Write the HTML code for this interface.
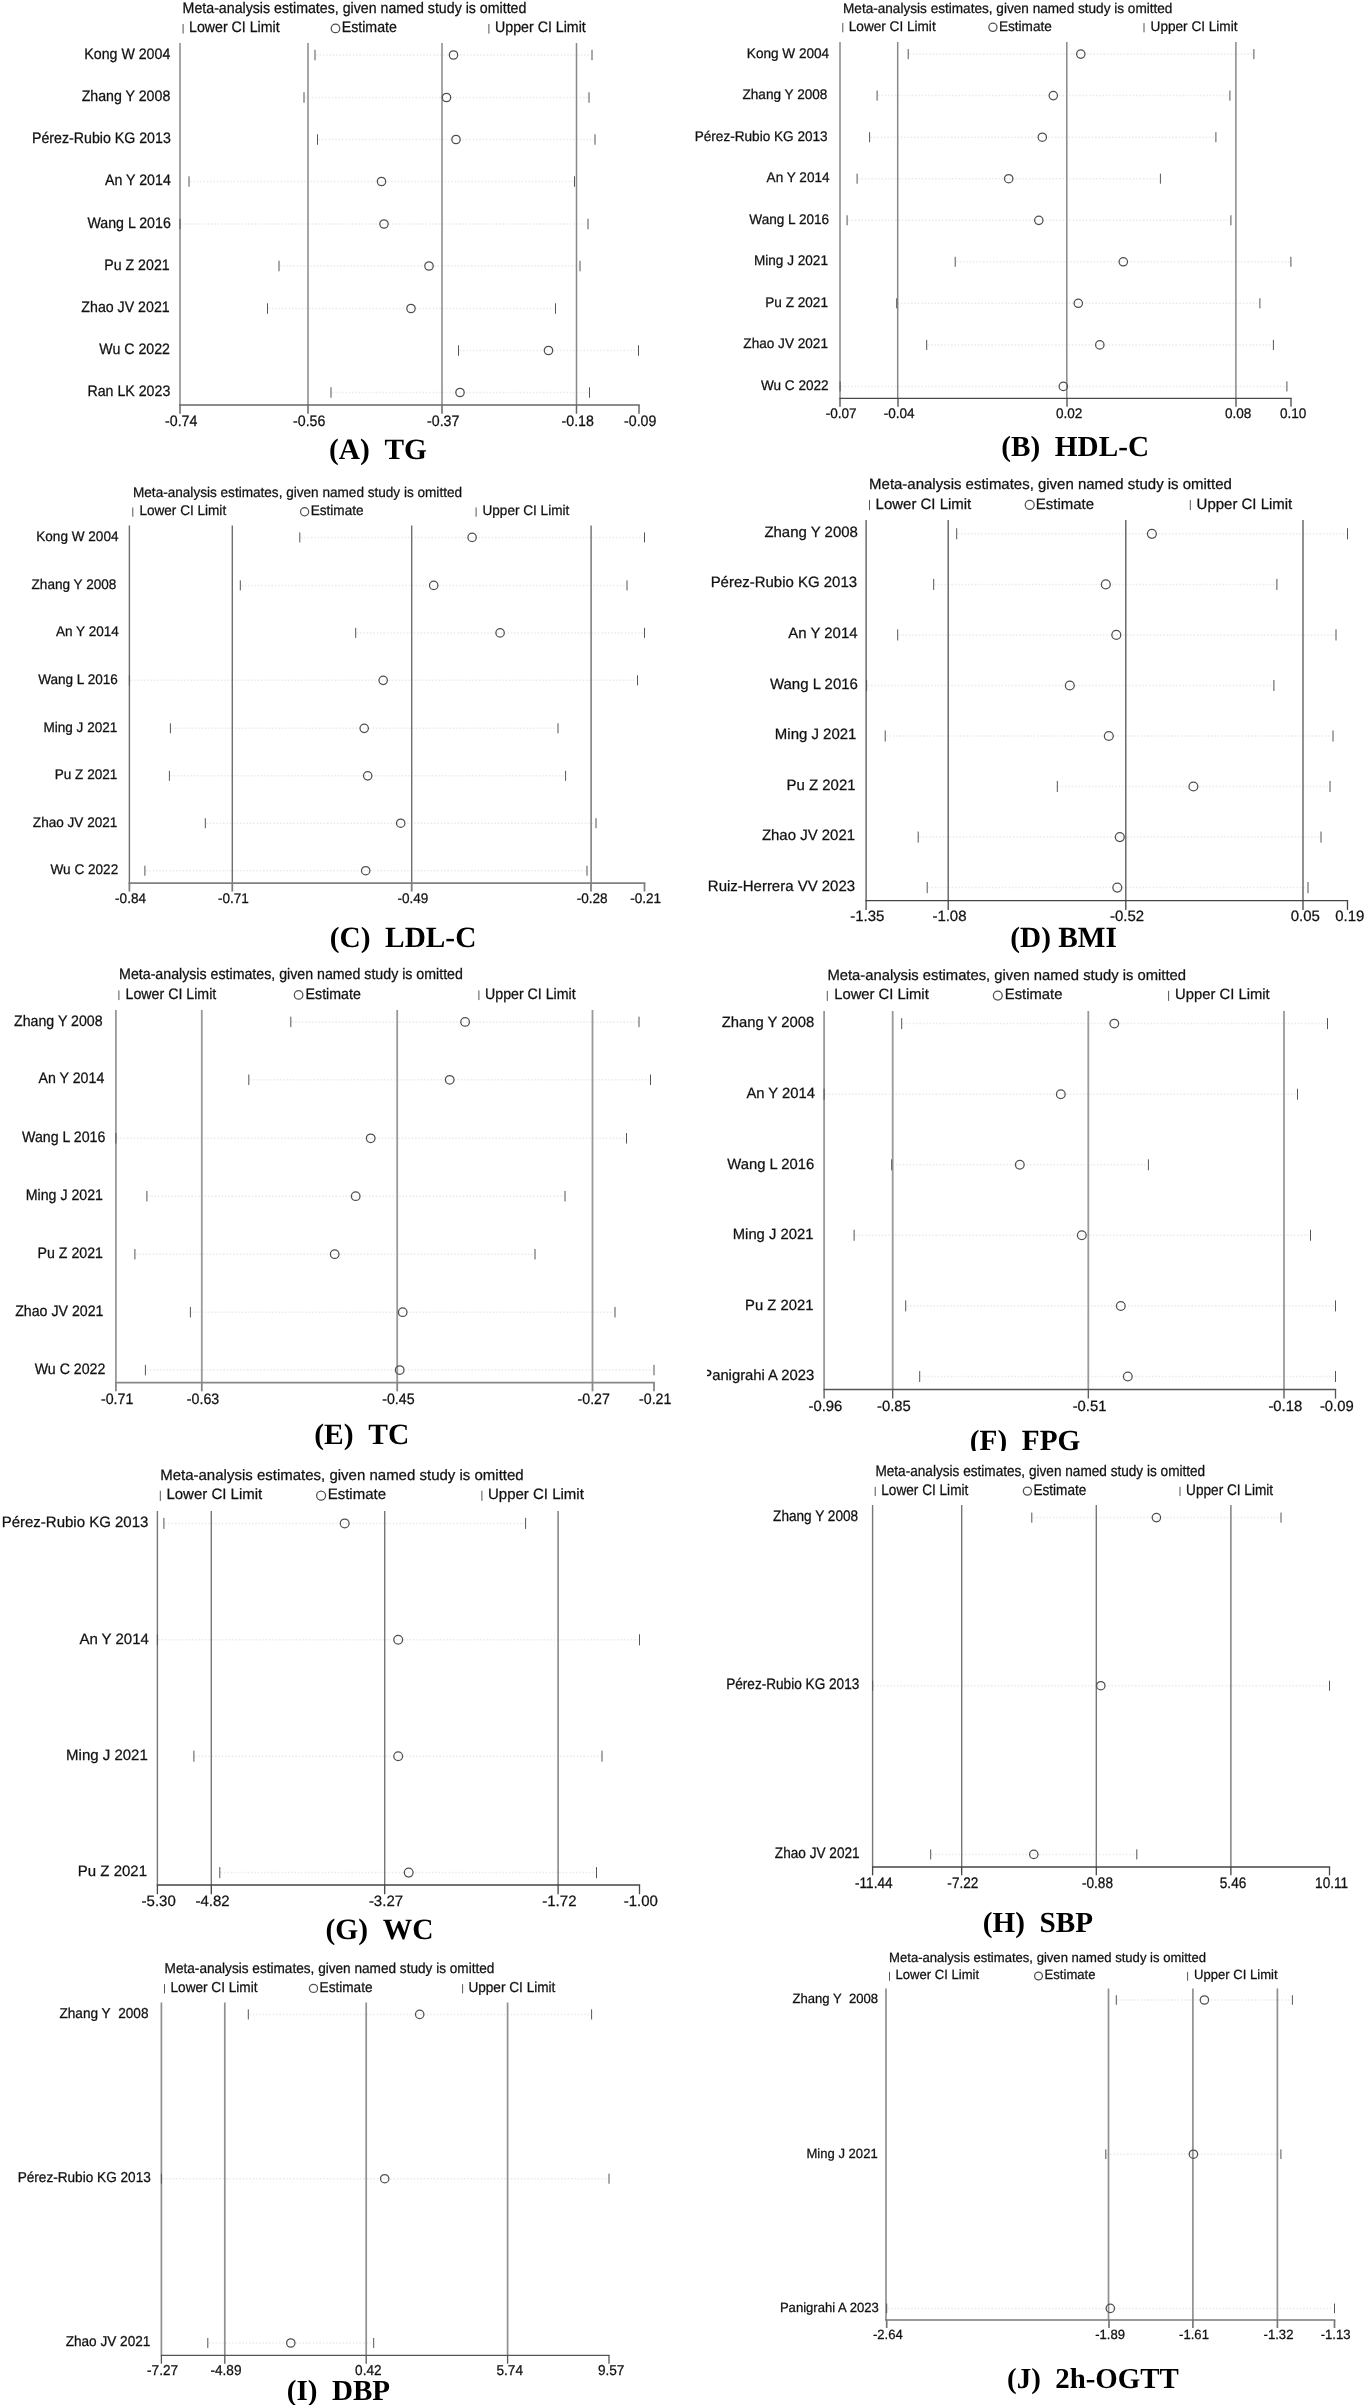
<!DOCTYPE html>
<html><head><meta charset="utf-8"><style>
html,body{margin:0;padding:0;background:#fff;}
svg{display:block;filter:grayscale(100%);}
text{font-family:"Liberation Sans",sans-serif;text-rendering:geometricPrecision;fill:#111;stroke:#111;stroke-width:0.25px;}
text.cap{font-family:"Liberation Serif",serif;font-weight:bold;fill:#000;stroke:none;}
.ax{stroke:#7a7a7a;stroke-width:1.3;}
.xa{stroke:#5a5a5a;stroke-width:1.4;}
.tk{stroke:#555;stroke-width:1;}
.ci{stroke:#505050;stroke-width:1.25;fill:none;}
.dt{stroke:#eaeaea;stroke-width:1.5;stroke-dasharray:1.5 1.85;}
</style></head><body>
<svg width="1369" height="2405" viewBox="0 0 1369 2405">
<defs><clipPath id="clxF" clipPathUnits="userSpaceOnUse"><rect x="706.9" y="0" width="2000" height="3000"/></clipPath><clipPath id="clyF" clipPathUnits="userSpaceOnUse"><rect x="0" y="0" width="2000" height="1451"/></clipPath></defs>
<rect width="1369" height="2405" fill="#fff"/>
<g id="pA"><text x="182.6" y="13.3" font-size="14.19" transform="matrix(1 0 0 1.070 0 -0.931)">Meta-analysis estimates, given named study is omitted</text>
<line class="tk" x1="183.1" x2="183.1" y1="23.97" y2="33.6"/>
<text x="189" y="32" font-size="14.19" transform="matrix(1 0 0 1.070 0 -2.240)">Lower CI Limit</text>
<circle class="ci" cx="335.5" cy="28.45" r="4.26"/>
<text x="341.7" y="32" font-size="14.19" transform="matrix(1 0 0 1.070 0 -2.240)">Estimate</text>
<line class="tk" x1="488.9" x2="488.9" y1="23.97" y2="33.6"/>
<text x="495.1" y="32" font-size="14.19" transform="matrix(1 0 0 1.070 0 -2.240)">Upper CI Limit</text>
<line class="dt" x1="316" x2="591" y1="55" y2="55"/>
<line class="dt" x1="305" x2="588" y1="97.5" y2="97.5"/>
<line class="dt" x1="318.5" x2="594" y1="139.5" y2="139.5"/>
<line class="dt" x1="190" x2="573.5" y1="181.5" y2="181.5"/>
<line class="dt" x1="181" x2="587" y1="224" y2="224"/>
<line class="dt" x1="280" x2="579" y1="266" y2="266"/>
<line class="dt" x1="268.5" x2="554.5" y1="308.5" y2="308.5"/>
<line class="dt" x1="459.5" x2="637.5" y1="350.5" y2="350.5"/>
<line class="dt" x1="332" x2="588.5" y1="392.5" y2="392.5"/>
<line x1="308" x2="308" y1="43" y2="405" stroke="#888" stroke-width="1.5"/>
<line x1="442" x2="442" y1="43" y2="405" stroke="#888" stroke-width="1.5"/>
<line x1="576.5" x2="576.5" y1="43" y2="405" stroke="#888" stroke-width="1.5"/>
<line x1="180" x2="180" y1="43" y2="405" stroke="#888" stroke-width="1.5"/>
<line x1="179.25" x2="639.75" y1="405" y2="405" stroke="#666" stroke-width="1.5"/>
<line x1="180" x2="180" y1="405" y2="413.72" stroke="#666" stroke-width="1.5"/>
<text x="181.22" y="425.8" font-size="14.19" text-anchor="middle" transform="matrix(1 0 0 1.070 0 -29.806)">-0.74</text>
<line x1="308" x2="308" y1="405" y2="413.72" stroke="#666" stroke-width="1.5"/>
<text x="309.22" y="425.8" font-size="14.19" text-anchor="middle" transform="matrix(1 0 0 1.070 0 -29.806)">-0.56</text>
<line x1="442" x2="442" y1="405" y2="413.72" stroke="#666" stroke-width="1.5"/>
<text x="443.22" y="425.8" font-size="14.19" text-anchor="middle" transform="matrix(1 0 0 1.070 0 -29.806)">-0.37</text>
<line x1="576.5" x2="576.5" y1="405" y2="413.72" stroke="#666" stroke-width="1.5"/>
<text x="577.72" y="425.8" font-size="14.19" text-anchor="middle" transform="matrix(1 0 0 1.070 0 -29.806)">-0.18</text>
<line x1="639" x2="639" y1="405" y2="413.72" stroke="#666" stroke-width="1.5"/>
<text x="640.22" y="425.8" font-size="14.19" text-anchor="middle" transform="matrix(1 0 0 1.070 0 -29.806)">-0.09</text>
<line class="tk" x1="315" x2="315" y1="49.75" y2="60.25"/>
<line class="tk" x1="592" x2="592" y1="49.75" y2="60.25"/>
<circle class="ci" cx="453.5" cy="55" r="4.2"/>
<text x="170.3" y="58.6" font-size="14.19" text-anchor="end" transform="matrix(1 0 0 1.070 0 -4.102)">Kong W 2004</text>
<line class="tk" x1="304" x2="304" y1="92.25" y2="102.75"/>
<line class="tk" x1="589" x2="589" y1="92.25" y2="102.75"/>
<circle class="ci" cx="446.5" cy="97.5" r="4.2"/>
<text x="170.3" y="101.1" font-size="14.19" text-anchor="end" transform="matrix(1 0 0 1.070 0 -7.077)">Zhang Y 2008</text>
<line class="tk" x1="317.5" x2="317.5" y1="134.25" y2="144.75"/>
<line class="tk" x1="595" x2="595" y1="134.25" y2="144.75"/>
<circle class="ci" cx="456" cy="139.5" r="4.2"/>
<text x="170.8" y="143.1" font-size="14.19" text-anchor="end" transform="matrix(1 0 0 1.070 0 -10.017)">Pérez-Rubio KG 2013</text>
<line class="tk" x1="189" x2="189" y1="176.25" y2="186.75"/>
<line class="tk" x1="574.5" x2="574.5" y1="176.25" y2="186.75"/>
<circle class="ci" cx="381.5" cy="181.5" r="4.2"/>
<text x="170.8" y="185.1" font-size="14.19" text-anchor="end" transform="matrix(1 0 0 1.070 0 -12.957)">An Y 2014</text>
<line class="tk" x1="180" x2="180" y1="218.75" y2="229.25"/>
<line class="tk" x1="588" x2="588" y1="218.75" y2="229.25"/>
<circle class="ci" cx="384" cy="224" r="4.2"/>
<text x="170.8" y="227.6" font-size="14.19" text-anchor="end" transform="matrix(1 0 0 1.070 0 -15.932)">Wang L 2016</text>
<line class="tk" x1="279" x2="279" y1="260.75" y2="271.25"/>
<line class="tk" x1="580" x2="580" y1="260.75" y2="271.25"/>
<circle class="ci" cx="429" cy="266" r="4.2"/>
<text x="169.7" y="269.6" font-size="14.19" text-anchor="end" transform="matrix(1 0 0 1.070 0 -18.872)">Pu Z 2021</text>
<line class="tk" x1="267.5" x2="267.5" y1="303.25" y2="313.75"/>
<line class="tk" x1="555.5" x2="555.5" y1="303.25" y2="313.75"/>
<circle class="ci" cx="411" cy="308.5" r="4.2"/>
<text x="169.7" y="312.1" font-size="14.19" text-anchor="end" transform="matrix(1 0 0 1.070 0 -21.847)">Zhao JV 2021</text>
<line class="tk" x1="458.5" x2="458.5" y1="345.25" y2="355.75"/>
<line class="tk" x1="638.5" x2="638.5" y1="345.25" y2="355.75"/>
<circle class="ci" cx="548.5" cy="350.5" r="4.2"/>
<text x="170" y="354.1" font-size="14.19" text-anchor="end" transform="matrix(1 0 0 1.070 0 -24.787)">Wu C 2022</text>
<line class="tk" x1="331" x2="331" y1="387.25" y2="397.75"/>
<line class="tk" x1="589.5" x2="589.5" y1="387.25" y2="397.75"/>
<circle class="ci" cx="460" cy="392.5" r="4.2"/>
<text x="170.3" y="396.1" font-size="14.19" text-anchor="end" transform="matrix(1 0 0 1.070 0 -27.727)">Ran LK 2023</text>
<text class="cap" x="328.9" y="459.2" font-size="29.4">(A)  TG</text></g>
<g id="pB"><text x="843" y="12.8" font-size="13.6" transform="matrix(1 0 0 1.030 0 -0.384)">Meta-analysis estimates, given named study is omitted</text>
<line class="tk" x1="842.8" x2="842.8" y1="23.07" y2="32.3"/>
<text x="848.8" y="30.7" font-size="13.6" transform="matrix(1 0 0 1.030 0 -0.921)">Lower CI Limit</text>
<circle class="ci" cx="992.9" cy="27.3" r="4.08"/>
<text x="998.9" y="30.7" font-size="13.6" transform="matrix(1 0 0 1.030 0 -0.921)">Estimate</text>
<line class="tk" x1="1144" x2="1144" y1="23.07" y2="32.3"/>
<text x="1150.6" y="30.7" font-size="13.6" transform="matrix(1 0 0 1.030 0 -0.921)">Upper CI Limit</text>
<line class="dt" x1="909.2" x2="1252.9" y1="54.1" y2="54.1"/>
<line class="dt" x1="878.1" x2="1228.9" y1="95.6" y2="95.6"/>
<line class="dt" x1="870.6" x2="1214.9" y1="137.2" y2="137.2"/>
<line class="dt" x1="858.1" x2="1159.4" y1="178.7" y2="178.7"/>
<line class="dt" x1="848.1" x2="1229.9" y1="220.3" y2="220.3"/>
<line class="dt" x1="956.2" x2="1289.9" y1="261.8" y2="261.8"/>
<line class="dt" x1="897.7" x2="1258.9" y1="303.3" y2="303.3"/>
<line class="dt" x1="927.7" x2="1272.4" y1="344.9" y2="344.9"/>
<line class="dt" x1="841.1" x2="1285.9" y1="386.4" y2="386.4"/>
<line x1="897.7" x2="897.7" y1="42" y2="398.3" stroke="#888" stroke-width="1.5"/>
<line x1="1066.8" x2="1066.8" y1="42" y2="398.3" stroke="#888" stroke-width="1.5"/>
<line x1="1235.9" x2="1235.9" y1="42" y2="398.3" stroke="#888" stroke-width="1.5"/>
<line x1="840" x2="840" y1="42" y2="398.3" stroke="#888" stroke-width="1.5"/>
<line x1="839.35" x2="1291.65" y1="398.3" y2="398.3" stroke="#4a4a4a" stroke-width="1.3"/>
<line x1="840" x2="840" y1="398.3" y2="406.65" stroke="#4a4a4a" stroke-width="1.3"/>
<text x="841.17" y="417.8" font-size="13.6" text-anchor="middle" transform="matrix(1 0 0 1.030 0 -12.534)">-0.07</text>
<line x1="898" x2="898" y1="398.3" y2="406.65" stroke="#4a4a4a" stroke-width="1.3"/>
<text x="899.17" y="417.8" font-size="13.6" text-anchor="middle" transform="matrix(1 0 0 1.030 0 -12.534)">-0.04</text>
<line x1="1067" x2="1067" y1="398.3" y2="406.65" stroke="#4a4a4a" stroke-width="1.3"/>
<text x="1069.14" y="417.8" font-size="13.6" text-anchor="middle" transform="matrix(1 0 0 1.030 0 -12.534)">0.02</text>
<line x1="1236" x2="1236" y1="398.3" y2="406.65" stroke="#4a4a4a" stroke-width="1.3"/>
<text x="1238.14" y="417.8" font-size="13.6" text-anchor="middle" transform="matrix(1 0 0 1.030 0 -12.534)">0.08</text>
<line x1="1291" x2="1291" y1="398.3" y2="406.65" stroke="#4a4a4a" stroke-width="1.3"/>
<text x="1293.14" y="417.8" font-size="13.6" text-anchor="middle" transform="matrix(1 0 0 1.030 0 -12.534)">0.10</text>
<line class="tk" x1="908.2" x2="908.2" y1="49.07" y2="59.13"/>
<line class="tk" x1="1253.9" x2="1253.9" y1="49.07" y2="59.13"/>
<circle class="ci" cx="1080.8" cy="54.1" r="4.2"/>
<text x="829.2" y="57.55" font-size="13.6" text-anchor="end" transform="matrix(1 0 0 1.030 0 -1.727)">Kong W 2004</text>
<line class="tk" x1="877.1" x2="877.1" y1="90.57" y2="100.63"/>
<line class="tk" x1="1229.9" x2="1229.9" y1="90.57" y2="100.63"/>
<circle class="ci" cx="1053.3" cy="95.6" r="4.2"/>
<text x="827.4" y="99.05" font-size="13.6" text-anchor="end" transform="matrix(1 0 0 1.030 0 -2.972)">Zhang Y 2008</text>
<line class="tk" x1="869.6" x2="869.6" y1="132.17" y2="142.23"/>
<line class="tk" x1="1215.9" x2="1215.9" y1="132.17" y2="142.23"/>
<circle class="ci" cx="1042.3" cy="137.2" r="4.2"/>
<text x="827.7" y="140.65" font-size="13.6" text-anchor="end" transform="matrix(1 0 0 1.030 0 -4.220)">Pérez-Rubio KG 2013</text>
<line class="tk" x1="857.1" x2="857.1" y1="173.67" y2="183.73"/>
<line class="tk" x1="1160.4" x2="1160.4" y1="173.67" y2="183.73"/>
<circle class="ci" cx="1008.7" cy="178.7" r="4.2"/>
<text x="829.6" y="182.15" font-size="13.6" text-anchor="end" transform="matrix(1 0 0 1.030 0 -5.465)">An Y 2014</text>
<line class="tk" x1="847.1" x2="847.1" y1="215.27" y2="225.33"/>
<line class="tk" x1="1230.9" x2="1230.9" y1="215.27" y2="225.33"/>
<circle class="ci" cx="1038.8" cy="220.3" r="4.2"/>
<text x="829.2" y="223.75" font-size="13.6" text-anchor="end" transform="matrix(1 0 0 1.030 0 -6.713)">Wang L 2016</text>
<line class="tk" x1="955.2" x2="955.2" y1="256.77" y2="266.83"/>
<line class="tk" x1="1290.9" x2="1290.9" y1="256.77" y2="266.83"/>
<circle class="ci" cx="1123.3" cy="261.8" r="4.2"/>
<text x="828" y="265.25" font-size="13.6" text-anchor="end" transform="matrix(1 0 0 1.030 0 -7.958)">Ming J 2021</text>
<line class="tk" x1="896.7" x2="896.7" y1="298.27" y2="308.33"/>
<line class="tk" x1="1259.9" x2="1259.9" y1="298.27" y2="308.33"/>
<circle class="ci" cx="1078.3" cy="303.3" r="4.2"/>
<text x="828" y="306.75" font-size="13.6" text-anchor="end" transform="matrix(1 0 0 1.030 0 -9.203)">Pu Z 2021</text>
<line class="tk" x1="926.7" x2="926.7" y1="339.87" y2="349.93"/>
<line class="tk" x1="1273.4" x2="1273.4" y1="339.87" y2="349.93"/>
<circle class="ci" cx="1099.8" cy="344.9" r="4.2"/>
<text x="828" y="348.35" font-size="13.6" text-anchor="end" transform="matrix(1 0 0 1.030 0 -10.451)">Zhao JV 2021</text>
<line class="tk" x1="840.1" x2="840.1" y1="381.37" y2="391.43"/>
<line class="tk" x1="1286.9" x2="1286.9" y1="381.37" y2="391.43"/>
<circle class="ci" cx="1063.3" cy="386.4" r="4.2"/>
<text x="828.7" y="389.85" font-size="13.6" text-anchor="end" transform="matrix(1 0 0 1.030 0 -11.696)">Wu C 2022</text>
<text class="cap" x="1001.3" y="456.2" font-size="29.22">(B)  HDL-C</text></g>
<g id="pC"><text x="133" y="497.2" font-size="13.58" transform="matrix(1 0 0 1.030 0 -14.916)">Meta-analysis estimates, given named study is omitted</text>
<line class="tk" x1="132.8" x2="132.8" y1="507.49" y2="516.7"/>
<text x="139.4" y="515.1" font-size="13.58" transform="matrix(1 0 0 1.030 0 -15.453)">Lower CI Limit</text>
<circle class="ci" cx="304.6" cy="511.71" r="4.07"/>
<text x="310.7" y="515.1" font-size="13.58" transform="matrix(1 0 0 1.030 0 -15.453)">Estimate</text>
<line class="tk" x1="476.1" x2="476.1" y1="507.49" y2="516.7"/>
<text x="482.5" y="515.1" font-size="13.58" transform="matrix(1 0 0 1.030 0 -15.453)">Upper CI Limit</text>
<line class="dt" x1="300.8" x2="643.5" y1="537.4" y2="537.4"/>
<line class="dt" x1="241.3" x2="626" y1="585.4" y2="585.4"/>
<line class="dt" x1="356.7" x2="643.5" y1="632.9" y2="632.9"/>
<line class="dt" x1="130.4" x2="636.5" y1="680.3" y2="680.3"/>
<line class="dt" x1="171.4" x2="557" y1="728.3" y2="728.3"/>
<line class="dt" x1="170.4" x2="564.6" y1="775.8" y2="775.8"/>
<line class="dt" x1="206.3" x2="595" y1="823.2" y2="823.2"/>
<line class="dt" x1="145.9" x2="586" y1="870.7" y2="870.7"/>
<line x1="232.3" x2="232.3" y1="525.4" y2="883.2" stroke="#6e6e6e" stroke-width="1.4"/>
<line x1="411.7" x2="411.7" y1="525.4" y2="883.2" stroke="#6e6e6e" stroke-width="1.4"/>
<line x1="591.1" x2="591.1" y1="525.4" y2="883.2" stroke="#6e6e6e" stroke-width="1.4"/>
<line x1="129.4" x2="129.4" y1="525.4" y2="883.2" stroke="#6e6e6e" stroke-width="1.4"/>
<line x1="128.5" x2="645.4" y1="883.2" y2="883.2" stroke="#808080" stroke-width="1.8"/>
<line x1="129.4" x2="129.4" y1="883.2" y2="891.54" stroke="#808080" stroke-width="1.8"/>
<text x="130.56" y="902.8" font-size="13.58" text-anchor="middle" transform="matrix(1 0 0 1.030 0 -27.084)">-0.84</text>
<line x1="232.3" x2="232.3" y1="883.2" y2="891.54" stroke="#808080" stroke-width="1.8"/>
<text x="233.46" y="902.8" font-size="13.58" text-anchor="middle" transform="matrix(1 0 0 1.030 0 -27.084)">-0.71</text>
<line x1="411.7" x2="411.7" y1="883.2" y2="891.54" stroke="#808080" stroke-width="1.8"/>
<text x="412.86" y="902.8" font-size="13.58" text-anchor="middle" transform="matrix(1 0 0 1.030 0 -27.084)">-0.49</text>
<line x1="591" x2="591" y1="883.2" y2="891.54" stroke="#808080" stroke-width="1.8"/>
<text x="592.16" y="902.8" font-size="13.58" text-anchor="middle" transform="matrix(1 0 0 1.030 0 -27.084)">-0.28</text>
<line x1="644.5" x2="644.5" y1="883.2" y2="891.54" stroke="#808080" stroke-width="1.8"/>
<text x="645.66" y="902.8" font-size="13.58" text-anchor="middle" transform="matrix(1 0 0 1.030 0 -27.084)">-0.21</text>
<line class="tk" x1="299.8" x2="299.8" y1="532.38" y2="542.42"/>
<line class="tk" x1="644.5" x2="644.5" y1="532.38" y2="542.42"/>
<circle class="ci" cx="472.1" cy="537.4" r="4.2"/>
<text x="118.5" y="540.85" font-size="13.58" text-anchor="end" transform="matrix(1 0 0 1.030 0 -16.225)">Kong W 2004</text>
<line class="tk" x1="240.3" x2="240.3" y1="580.38" y2="590.42"/>
<line class="tk" x1="627" x2="627" y1="580.38" y2="590.42"/>
<circle class="ci" cx="433.7" cy="585.4" r="4.2"/>
<text x="116.4" y="588.85" font-size="13.58" text-anchor="end" transform="matrix(1 0 0 1.030 0 -17.665)">Zhang Y 2008</text>
<line class="tk" x1="355.7" x2="355.7" y1="627.88" y2="637.92"/>
<line class="tk" x1="644.5" x2="644.5" y1="627.88" y2="637.92"/>
<circle class="ci" cx="500.1" cy="632.9" r="4.2"/>
<text x="118.9" y="636.35" font-size="13.58" text-anchor="end" transform="matrix(1 0 0 1.030 0 -19.090)">An Y 2014</text>
<line class="tk" x1="129.4" x2="129.4" y1="675.28" y2="685.32"/>
<line class="tk" x1="637.5" x2="637.5" y1="675.28" y2="685.32"/>
<circle class="ci" cx="383.2" cy="680.3" r="4.2"/>
<text x="117.9" y="683.75" font-size="13.58" text-anchor="end" transform="matrix(1 0 0 1.030 0 -20.512)">Wang L 2016</text>
<line class="tk" x1="170.4" x2="170.4" y1="723.28" y2="733.32"/>
<line class="tk" x1="558" x2="558" y1="723.28" y2="733.32"/>
<circle class="ci" cx="364.2" cy="728.3" r="4.2"/>
<text x="117.4" y="731.75" font-size="13.58" text-anchor="end" transform="matrix(1 0 0 1.030 0 -21.952)">Ming J 2021</text>
<line class="tk" x1="169.4" x2="169.4" y1="770.78" y2="780.82"/>
<line class="tk" x1="565.6" x2="565.6" y1="770.78" y2="780.82"/>
<circle class="ci" cx="367.7" cy="775.8" r="4.2"/>
<text x="117.4" y="779.25" font-size="13.58" text-anchor="end" transform="matrix(1 0 0 1.030 0 -23.377)">Pu Z 2021</text>
<line class="tk" x1="205.3" x2="205.3" y1="818.18" y2="828.22"/>
<line class="tk" x1="596" x2="596" y1="818.18" y2="828.22"/>
<circle class="ci" cx="400.7" cy="823.2" r="4.2"/>
<text x="117.4" y="826.65" font-size="13.58" text-anchor="end" transform="matrix(1 0 0 1.030 0 -24.799)">Zhao JV 2021</text>
<line class="tk" x1="144.9" x2="144.9" y1="865.68" y2="875.72"/>
<line class="tk" x1="587" x2="587" y1="865.68" y2="875.72"/>
<circle class="ci" cx="365.7" cy="870.7" r="4.2"/>
<text x="118.2" y="874.15" font-size="13.58" text-anchor="end" transform="matrix(1 0 0 1.030 0 -26.224)">Wu C 2022</text>
<text class="cap" x="329.7" y="947.1" font-size="29.33">(C)  LDL-C</text></g>
<g id="pD"><text x="869.1" y="488.8" font-size="14.97" transform="matrix(1 0 0 1.000 0 0.000)">Meta-analysis estimates, given named study is omitted</text>
<line class="tk" x1="869.5" x2="869.5" y1="499.94" y2="510.1"/>
<text x="875.6" y="508.5" font-size="14.97" transform="matrix(1 0 0 1.000 0 0.000)">Lower CI Limit</text>
<circle class="ci" cx="1029.7" cy="504.76" r="4.49"/>
<text x="1035.8" y="508.5" font-size="14.97" transform="matrix(1 0 0 1.000 0 0.000)">Estimate</text>
<line class="tk" x1="1190.3" x2="1190.3" y1="499.94" y2="510.1"/>
<text x="1196.6" y="508.5" font-size="14.97" transform="matrix(1 0 0 1.000 0 0.000)">Upper CI Limit</text>
<line class="dt" x1="957.7" x2="1346.5" y1="533.8" y2="533.8"/>
<line class="dt" x1="934.7" x2="1275.9" y1="584.4" y2="584.4"/>
<line class="dt" x1="898.7" x2="1335" y1="634.9" y2="634.9"/>
<line class="dt" x1="867.6" x2="1272.9" y1="685.5" y2="685.5"/>
<line class="dt" x1="886.2" x2="1332" y1="736" y2="736"/>
<line class="dt" x1="1058.3" x2="1329" y1="786.5" y2="786.5"/>
<line class="dt" x1="919.2" x2="1320" y1="837.1" y2="837.1"/>
<line class="dt" x1="928.2" x2="1307" y1="887.6" y2="887.6"/>
<line x1="948.2" x2="948.2" y1="520" y2="900.7" stroke="#555" stroke-width="1.3"/>
<line x1="1125.8" x2="1125.8" y1="520" y2="900.7" stroke="#555" stroke-width="1.3"/>
<line x1="1303" x2="1303" y1="520" y2="900.7" stroke="#555" stroke-width="1.3"/>
<line x1="866.1" x2="866.1" y1="520" y2="900.7" stroke="#555" stroke-width="1.3"/>
<line x1="865.45" x2="1348.15" y1="900.7" y2="900.7" stroke="#444" stroke-width="1.3"/>
<line x1="866.1" x2="866.1" y1="900.7" y2="909.9" stroke="#444" stroke-width="1.3"/>
<text x="867.38" y="920.8" font-size="14.97" text-anchor="middle" transform="matrix(1 0 0 1.000 0 0.000)">-1.35</text>
<line x1="948.2" x2="948.2" y1="900.7" y2="909.9" stroke="#444" stroke-width="1.3"/>
<text x="949.48" y="920.8" font-size="14.97" text-anchor="middle" transform="matrix(1 0 0 1.000 0 0.000)">-1.08</text>
<line x1="1125.8" x2="1125.8" y1="900.7" y2="909.9" stroke="#444" stroke-width="1.3"/>
<text x="1127.08" y="920.8" font-size="14.97" text-anchor="middle" transform="matrix(1 0 0 1.000 0 0.000)">-0.52</text>
<line x1="1303" x2="1303" y1="900.7" y2="909.9" stroke="#444" stroke-width="1.3"/>
<text x="1305.35" y="920.8" font-size="14.97" text-anchor="middle" transform="matrix(1 0 0 1.000 0 0.000)">0.05</text>
<line x1="1347.5" x2="1347.5" y1="900.7" y2="909.9" stroke="#444" stroke-width="1.3"/>
<text x="1349.85" y="920.8" font-size="14.97" text-anchor="middle" transform="matrix(1 0 0 1.000 0 0.000)">0.19</text>
<line class="tk" x1="956.7" x2="956.7" y1="528.26" y2="539.34"/>
<line class="tk" x1="1347.5" x2="1347.5" y1="528.26" y2="539.34"/>
<circle class="ci" cx="1151.9" cy="533.8" r="4.45"/>
<text x="857.9" y="536.8" font-size="14.97" text-anchor="end" transform="matrix(1 0 0 1.000 0 0.000)">Zhang Y 2008</text>
<line class="tk" x1="933.7" x2="933.7" y1="578.86" y2="589.94"/>
<line class="tk" x1="1276.9" x2="1276.9" y1="578.86" y2="589.94"/>
<circle class="ci" cx="1105.8" cy="584.4" r="4.45"/>
<text x="857.1" y="587.4" font-size="14.97" text-anchor="end" transform="matrix(1 0 0 1.000 0 0.000)">Pérez-Rubio KG 2013</text>
<line class="tk" x1="897.7" x2="897.7" y1="629.36" y2="640.44"/>
<line class="tk" x1="1336" x2="1336" y1="629.36" y2="640.44"/>
<circle class="ci" cx="1116.3" cy="634.9" r="4.45"/>
<text x="857.6" y="637.9" font-size="14.97" text-anchor="end" transform="matrix(1 0 0 1.000 0 0.000)">An Y 2014</text>
<line class="tk" x1="866.6" x2="866.6" y1="679.96" y2="691.04"/>
<line class="tk" x1="1273.9" x2="1273.9" y1="679.96" y2="691.04"/>
<circle class="ci" cx="1069.8" cy="685.5" r="4.45"/>
<text x="857.9" y="688.5" font-size="14.97" text-anchor="end" transform="matrix(1 0 0 1.000 0 0.000)">Wang L 2016</text>
<line class="tk" x1="885.2" x2="885.2" y1="730.46" y2="741.54"/>
<line class="tk" x1="1333" x2="1333" y1="730.46" y2="741.54"/>
<circle class="ci" cx="1108.8" cy="736" r="4.45"/>
<text x="856.4" y="739" font-size="14.97" text-anchor="end" transform="matrix(1 0 0 1.000 0 0.000)">Ming J 2021</text>
<line class="tk" x1="1057.3" x2="1057.3" y1="780.96" y2="792.04"/>
<line class="tk" x1="1330" x2="1330" y1="780.96" y2="792.04"/>
<circle class="ci" cx="1193.4" cy="786.5" r="4.45"/>
<text x="855.6" y="789.5" font-size="14.97" text-anchor="end" transform="matrix(1 0 0 1.000 0 0.000)">Pu Z 2021</text>
<line class="tk" x1="918.2" x2="918.2" y1="831.56" y2="842.64"/>
<line class="tk" x1="1321" x2="1321" y1="831.56" y2="842.64"/>
<circle class="ci" cx="1119.8" cy="837.1" r="4.45"/>
<text x="855.1" y="840.1" font-size="14.97" text-anchor="end" transform="matrix(1 0 0 1.000 0 0.000)">Zhao JV 2021</text>
<line class="tk" x1="927.2" x2="927.2" y1="882.06" y2="893.14"/>
<line class="tk" x1="1308" x2="1308" y1="882.06" y2="893.14"/>
<circle class="ci" cx="1117.3" cy="887.6" r="4.45"/>
<text x="855.1" y="890.6" font-size="14.97" text-anchor="end" transform="matrix(1 0 0 1.000 0 0.000)">Ruiz-Herrera VV 2023</text>
<text class="cap" x="1010.3" y="946.5" font-size="29.27">(D) BMI</text></g>
<g id="pE"><text x="119.1" y="978.8" font-size="14.19" transform="matrix(1 0 0 1.070 0 -68.516)">Meta-analysis estimates, given named study is omitted</text>
<line class="tk" x1="118.9" x2="118.9" y1="990.47" y2="1000.1"/>
<text x="125.6" y="998.5" font-size="14.19" transform="matrix(1 0 0 1.070 0 -69.895)">Lower CI Limit</text>
<circle class="ci" cx="298.6" cy="994.95" r="4.26"/>
<text x="305.6" y="998.5" font-size="14.19" transform="matrix(1 0 0 1.070 0 -69.895)">Estimate</text>
<line class="tk" x1="478.9" x2="478.9" y1="990.47" y2="1000.1"/>
<text x="485" y="998.5" font-size="14.19" transform="matrix(1 0 0 1.070 0 -69.895)">Upper CI Limit</text>
<line class="dt" x1="291.8" x2="638" y1="1021.9" y2="1021.9"/>
<line class="dt" x1="249.8" x2="649.5" y1="1079.8" y2="1079.8"/>
<line class="dt" x1="116.9" x2="625.5" y1="1138.3" y2="1138.3"/>
<line class="dt" x1="147.9" x2="564" y1="1196.2" y2="1196.2"/>
<line class="dt" x1="135.9" x2="534" y1="1254.2" y2="1254.2"/>
<line class="dt" x1="191.4" x2="614" y1="1312.2" y2="1312.2"/>
<line class="dt" x1="146.4" x2="653" y1="1370.1" y2="1370.1"/>
<line x1="201.8" x2="201.8" y1="1010" y2="1382.6" stroke="#999" stroke-width="1.8"/>
<line x1="397.2" x2="397.2" y1="1010" y2="1382.6" stroke="#999" stroke-width="1.8"/>
<line x1="592.5" x2="592.5" y1="1010" y2="1382.6" stroke="#999" stroke-width="1.8"/>
<line x1="115.9" x2="115.9" y1="1010" y2="1382.6" stroke="#999" stroke-width="1.8"/>
<line x1="115" x2="654.9" y1="1382.6" y2="1382.6" stroke="#888" stroke-width="1.8"/>
<line x1="115.9" x2="115.9" y1="1382.6" y2="1391.32" stroke="#888" stroke-width="1.8"/>
<text x="117.12" y="1403.8" font-size="14.19" text-anchor="middle" transform="matrix(1 0 0 1.070 0 -98.266)">-0.71</text>
<line x1="201.8" x2="201.8" y1="1382.6" y2="1391.32" stroke="#888" stroke-width="1.8"/>
<text x="203.02" y="1403.8" font-size="14.19" text-anchor="middle" transform="matrix(1 0 0 1.070 0 -98.266)">-0.63</text>
<line x1="397.2" x2="397.2" y1="1382.6" y2="1391.32" stroke="#888" stroke-width="1.8"/>
<text x="398.42" y="1403.8" font-size="14.19" text-anchor="middle" transform="matrix(1 0 0 1.070 0 -98.266)">-0.45</text>
<line x1="592.5" x2="592.5" y1="1382.6" y2="1391.32" stroke="#888" stroke-width="1.8"/>
<text x="593.72" y="1403.8" font-size="14.19" text-anchor="middle" transform="matrix(1 0 0 1.070 0 -98.266)">-0.27</text>
<line x1="654" x2="654" y1="1382.6" y2="1391.32" stroke="#888" stroke-width="1.8"/>
<text x="655.22" y="1403.8" font-size="14.19" text-anchor="middle" transform="matrix(1 0 0 1.070 0 -98.266)">-0.21</text>
<line class="tk" x1="290.8" x2="290.8" y1="1016.65" y2="1027.15"/>
<line class="tk" x1="639" x2="639" y1="1016.65" y2="1027.15"/>
<circle class="ci" cx="465.1" cy="1021.9" r="4.3"/>
<text x="102.6" y="1025.5" font-size="14.19" text-anchor="end" transform="matrix(1 0 0 1.070 0 -71.785)">Zhang Y 2008</text>
<line class="tk" x1="248.8" x2="248.8" y1="1074.55" y2="1085.05"/>
<line class="tk" x1="650.5" x2="650.5" y1="1074.55" y2="1085.05"/>
<circle class="ci" cx="449.7" cy="1079.8" r="4.3"/>
<text x="104.3" y="1083.4" font-size="14.19" text-anchor="end" transform="matrix(1 0 0 1.070 0 -75.838)">An Y 2014</text>
<line class="tk" x1="115.9" x2="115.9" y1="1133.05" y2="1143.55"/>
<line class="tk" x1="626.5" x2="626.5" y1="1133.05" y2="1143.55"/>
<circle class="ci" cx="370.7" cy="1138.3" r="4.3"/>
<text x="105.4" y="1141.9" font-size="14.19" text-anchor="end" transform="matrix(1 0 0 1.070 0 -79.933)">Wang L 2016</text>
<line class="tk" x1="146.9" x2="146.9" y1="1190.95" y2="1201.45"/>
<line class="tk" x1="565" x2="565" y1="1190.95" y2="1201.45"/>
<circle class="ci" cx="355.7" cy="1196.2" r="4.3"/>
<text x="103" y="1199.8" font-size="14.19" text-anchor="end" transform="matrix(1 0 0 1.070 0 -83.986)">Ming J 2021</text>
<line class="tk" x1="134.9" x2="134.9" y1="1248.95" y2="1259.45"/>
<line class="tk" x1="535" x2="535" y1="1248.95" y2="1259.45"/>
<circle class="ci" cx="334.7" cy="1254.2" r="4.3"/>
<text x="103" y="1257.8" font-size="14.19" text-anchor="end" transform="matrix(1 0 0 1.070 0 -88.046)">Pu Z 2021</text>
<line class="tk" x1="190.4" x2="190.4" y1="1306.95" y2="1317.45"/>
<line class="tk" x1="615" x2="615" y1="1306.95" y2="1317.45"/>
<circle class="ci" cx="402.7" cy="1312.2" r="4.3"/>
<text x="103.5" y="1315.8" font-size="14.19" text-anchor="end" transform="matrix(1 0 0 1.070 0 -92.106)">Zhao JV 2021</text>
<line class="tk" x1="145.4" x2="145.4" y1="1364.85" y2="1375.35"/>
<line class="tk" x1="654" x2="654" y1="1364.85" y2="1375.35"/>
<circle class="ci" cx="399.7" cy="1370.1" r="4.3"/>
<text x="105.4" y="1373.7" font-size="14.19" text-anchor="end" transform="matrix(1 0 0 1.070 0 -96.159)">Wu C 2022</text>
<text class="cap" x="314.2" y="1444" font-size="29.5">(E)  TC</text></g>
<g id="pF"><text x="827.4" y="980.4" font-size="14.81" transform="matrix(1 0 0 1.000 0 0.000)">Meta-analysis estimates, given named study is omitted</text>
<line class="tk" x1="827.3" x2="827.3" y1="990.85" y2="1000.9"/>
<text x="834.2" y="999.3" font-size="14.81" transform="matrix(1 0 0 1.000 0 0.000)">Lower CI Limit</text>
<circle class="ci" cx="997.8" cy="995.6" r="4.44"/>
<text x="1004.8" y="999.3" font-size="14.81" transform="matrix(1 0 0 1.000 0 0.000)">Estimate</text>
<line class="tk" x1="1168.6" x2="1168.6" y1="990.85" y2="1000.9"/>
<text x="1175.1" y="999.3" font-size="14.81" transform="matrix(1 0 0 1.000 0 0.000)">Upper CI Limit</text>
<line class="dt" x1="902.7" x2="1326.5" y1="1023.6" y2="1023.6"/>
<line class="dt" x1="825.1" x2="1296.5" y1="1094.2" y2="1094.2"/>
<line class="dt" x1="892.7" x2="1147.4" y1="1164.8" y2="1164.8"/>
<line class="dt" x1="855.1" x2="1309.5" y1="1235.3" y2="1235.3"/>
<line class="dt" x1="906.7" x2="1334.5" y1="1305.9" y2="1305.9"/>
<line class="dt" x1="920.7" x2="1334.5" y1="1376.5" y2="1376.5"/>
<line x1="892.7" x2="892.7" y1="1011" y2="1389.5" stroke="#999" stroke-width="1.8"/>
<line x1="1088.3" x2="1088.3" y1="1011" y2="1389.5" stroke="#999" stroke-width="1.8"/>
<line x1="1284" x2="1284" y1="1011" y2="1389.5" stroke="#999" stroke-width="1.8"/>
<line x1="824.1" x2="824.1" y1="1011" y2="1389.5" stroke="#999" stroke-width="1.8"/>
<line x1="823.45" x2="1336.15" y1="1389.5" y2="1389.5" stroke="#555" stroke-width="1.3"/>
<line x1="824.1" x2="824.1" y1="1389.5" y2="1398.6" stroke="#555" stroke-width="1.3"/>
<text x="825.37" y="1411.3" font-size="14.81" text-anchor="middle" transform="matrix(1 0 0 1.000 0 0.000)">-0.96</text>
<line x1="892.7" x2="892.7" y1="1389.5" y2="1398.6" stroke="#555" stroke-width="1.3"/>
<text x="893.97" y="1411.3" font-size="14.81" text-anchor="middle" transform="matrix(1 0 0 1.000 0 0.000)">-0.85</text>
<line x1="1088.3" x2="1088.3" y1="1389.5" y2="1398.6" stroke="#555" stroke-width="1.3"/>
<text x="1089.57" y="1411.3" font-size="14.81" text-anchor="middle" transform="matrix(1 0 0 1.000 0 0.000)">-0.51</text>
<line x1="1284" x2="1284" y1="1389.5" y2="1398.6" stroke="#555" stroke-width="1.3"/>
<text x="1285.27" y="1411.3" font-size="14.81" text-anchor="middle" transform="matrix(1 0 0 1.000 0 0.000)">-0.18</text>
<line x1="1335.5" x2="1335.5" y1="1389.5" y2="1398.6" stroke="#555" stroke-width="1.3"/>
<text x="1336.77" y="1411.3" font-size="14.81" text-anchor="middle" transform="matrix(1 0 0 1.000 0 0.000)">-0.09</text>
<line class="tk" x1="901.7" x2="901.7" y1="1018.12" y2="1029.08"/>
<line class="tk" x1="1327.5" x2="1327.5" y1="1018.12" y2="1029.08"/>
<circle class="ci" cx="1114.3" cy="1023.6" r="4.35"/>
<text x="814.2" y="1027.36" font-size="14.81" text-anchor="end" transform="matrix(1 0 0 1.000 0 0.000)" clip-path="url(#clxF)">Zhang Y 2008</text>
<line class="tk" x1="824.1" x2="824.1" y1="1088.72" y2="1099.68"/>
<line class="tk" x1="1297.5" x2="1297.5" y1="1088.72" y2="1099.68"/>
<circle class="ci" cx="1060.8" cy="1094.2" r="4.35"/>
<text x="815" y="1097.96" font-size="14.81" text-anchor="end" transform="matrix(1 0 0 1.000 0 0.000)" clip-path="url(#clxF)">An Y 2014</text>
<line class="tk" x1="891.7" x2="891.7" y1="1159.32" y2="1170.28"/>
<line class="tk" x1="1148.4" x2="1148.4" y1="1159.32" y2="1170.28"/>
<circle class="ci" cx="1019.8" cy="1164.8" r="4.35"/>
<text x="814.2" y="1168.56" font-size="14.81" text-anchor="end" transform="matrix(1 0 0 1.000 0 0.000)" clip-path="url(#clxF)">Wang L 2016</text>
<line class="tk" x1="854.1" x2="854.1" y1="1229.82" y2="1240.78"/>
<line class="tk" x1="1310.5" x2="1310.5" y1="1229.82" y2="1240.78"/>
<circle class="ci" cx="1081.8" cy="1235.3" r="4.35"/>
<text x="813.4" y="1239.06" font-size="14.81" text-anchor="end" transform="matrix(1 0 0 1.000 0 0.000)" clip-path="url(#clxF)">Ming J 2021</text>
<line class="tk" x1="905.7" x2="905.7" y1="1300.42" y2="1311.38"/>
<line class="tk" x1="1335.5" x2="1335.5" y1="1300.42" y2="1311.38"/>
<circle class="ci" cx="1120.8" cy="1305.9" r="4.35"/>
<text x="813.4" y="1309.66" font-size="14.81" text-anchor="end" transform="matrix(1 0 0 1.000 0 0.000)" clip-path="url(#clxF)">Pu Z 2021</text>
<line class="tk" x1="919.7" x2="919.7" y1="1371.02" y2="1381.98"/>
<line class="tk" x1="1335.5" x2="1335.5" y1="1371.02" y2="1381.98"/>
<circle class="ci" cx="1127.8" cy="1376.5" r="4.35"/>
<text x="814.2" y="1380.26" font-size="14.81" text-anchor="end" transform="matrix(1 0 0 1.000 0 0.000)" clip-path="url(#clxF)">Panigrahi A 2023</text>
<text class="cap" x="969.8" y="1450.2" font-size="29.26" clip-path="url(#clyF)">(F)  FPG</text></g>
<g id="pG"><text x="160.2" y="1480.4" font-size="15.0" transform="matrix(1 0 0 1.000 0 0.000)">Meta-analysis estimates, given named study is omitted</text>
<line class="tk" x1="160.3" x2="160.3" y1="1490.72" y2="1500.9"/>
<text x="166.4" y="1499.3" font-size="15.0" transform="matrix(1 0 0 1.000 0 0.000)">Lower CI Limit</text>
<circle class="ci" cx="321.1" cy="1495.55" r="4.5"/>
<text x="327.7" y="1499.3" font-size="15.0" transform="matrix(1 0 0 1.000 0 0.000)">Estimate</text>
<line class="tk" x1="481.9" x2="481.9" y1="1490.72" y2="1500.9"/>
<text x="488" y="1499.3" font-size="15.0" transform="matrix(1 0 0 1.000 0 0.000)">Upper CI Limit</text>
<line class="dt" x1="164.9" x2="524.6" y1="1523.4" y2="1523.4"/>
<line class="dt" x1="158.4" x2="638.5" y1="1639.8" y2="1639.8"/>
<line class="dt" x1="194.9" x2="601" y1="1756.2" y2="1756.2"/>
<line class="dt" x1="220.8" x2="595.5" y1="1872.6" y2="1872.6"/>
<line x1="211.3" x2="211.3" y1="1511" y2="1885" stroke="#777" stroke-width="1.4"/>
<line x1="384.7" x2="384.7" y1="1511" y2="1885" stroke="#777" stroke-width="1.4"/>
<line x1="558.1" x2="558.1" y1="1511" y2="1885" stroke="#777" stroke-width="1.4"/>
<line x1="157.4" x2="157.4" y1="1511" y2="1885" stroke="#777" stroke-width="1.4"/>
<line x1="156.75" x2="640.15" y1="1885" y2="1885" stroke="#444" stroke-width="1.3"/>
<line x1="157.4" x2="157.4" y1="1885" y2="1894.21" stroke="#444" stroke-width="1.3"/>
<text x="158.69" y="1906.3" font-size="15.0" text-anchor="middle" transform="matrix(1 0 0 1.000 0 0.000)">-5.30</text>
<line x1="211.3" x2="211.3" y1="1885" y2="1894.21" stroke="#444" stroke-width="1.3"/>
<text x="212.59" y="1906.3" font-size="15.0" text-anchor="middle" transform="matrix(1 0 0 1.000 0 0.000)">-4.82</text>
<line x1="384.7" x2="384.7" y1="1885" y2="1894.21" stroke="#444" stroke-width="1.3"/>
<text x="385.99" y="1906.3" font-size="15.0" text-anchor="middle" transform="matrix(1 0 0 1.000 0 0.000)">-3.27</text>
<line x1="558.1" x2="558.1" y1="1885" y2="1894.21" stroke="#444" stroke-width="1.3"/>
<text x="559.39" y="1906.3" font-size="15.0" text-anchor="middle" transform="matrix(1 0 0 1.000 0 0.000)">-1.72</text>
<line x1="639.5" x2="639.5" y1="1885" y2="1894.21" stroke="#444" stroke-width="1.3"/>
<text x="640.79" y="1906.3" font-size="15.0" text-anchor="middle" transform="matrix(1 0 0 1.000 0 0.000)">-1.00</text>
<line class="tk" x1="163.9" x2="163.9" y1="1517.85" y2="1528.95"/>
<line class="tk" x1="525.6" x2="525.6" y1="1517.85" y2="1528.95"/>
<circle class="ci" cx="344.7" cy="1523.4" r="4.4"/>
<text x="148.4" y="1527.21" font-size="15.0" text-anchor="end" transform="matrix(1 0 0 1.000 0 0.000)">Pérez-Rubio KG 2013</text>
<line class="tk" x1="157.4" x2="157.4" y1="1634.25" y2="1645.35"/>
<line class="tk" x1="639.5" x2="639.5" y1="1634.25" y2="1645.35"/>
<circle class="ci" cx="398.2" cy="1639.8" r="4.4"/>
<text x="148.9" y="1643.61" font-size="15.0" text-anchor="end" transform="matrix(1 0 0 1.000 0 0.000)">An Y 2014</text>
<line class="tk" x1="193.9" x2="193.9" y1="1750.65" y2="1761.75"/>
<line class="tk" x1="602" x2="602" y1="1750.65" y2="1761.75"/>
<circle class="ci" cx="398.2" cy="1756.2" r="4.4"/>
<text x="147.8" y="1760.01" font-size="15.0" text-anchor="end" transform="matrix(1 0 0 1.000 0 0.000)">Ming J 2021</text>
<line class="tk" x1="219.8" x2="219.8" y1="1867.05" y2="1878.15"/>
<line class="tk" x1="596.5" x2="596.5" y1="1867.05" y2="1878.15"/>
<circle class="ci" cx="408.7" cy="1872.6" r="4.4"/>
<text x="147" y="1876.41" font-size="15.0" text-anchor="end" transform="matrix(1 0 0 1.000 0 0.000)">Pu Z 2021</text>
<text class="cap" x="325.4" y="1938.9" font-size="29.47">(G)  WC</text></g>
<g id="pH"><text x="875.4" y="1475.9" font-size="13.61" transform="matrix(1 0 0 1.120 0 -177.108)">Meta-analysis estimates, given named study is omitted</text>
<line class="tk" x1="875.2" x2="875.2" y1="1486.86" y2="1496.1"/>
<text x="881.3" y="1494.5" font-size="13.61" transform="matrix(1 0 0 1.120 0 -179.340)">Lower CI Limit</text>
<circle class="ci" cx="1027.4" cy="1491.1" r="4.08"/>
<text x="1033.4" y="1494.5" font-size="13.61" transform="matrix(1 0 0 1.120 0 -179.340)">Estimate</text>
<line class="tk" x1="1180" x2="1180" y1="1486.86" y2="1496.1"/>
<text x="1186.1" y="1494.5" font-size="13.61" transform="matrix(1 0 0 1.120 0 -179.340)">Upper CI Limit</text>
<line class="dt" x1="1032.8" x2="1280" y1="1517.6" y2="1517.6"/>
<line class="dt" x1="873.6" x2="1328.5" y1="1685.7" y2="1685.7"/>
<line class="dt" x1="931.7" x2="1135.8" y1="1854.4" y2="1854.4"/>
<line x1="961.7" x2="961.7" y1="1505" y2="1867" stroke="#777" stroke-width="1.4"/>
<line x1="1096.3" x2="1096.3" y1="1505" y2="1867" stroke="#777" stroke-width="1.4"/>
<line x1="1230.9" x2="1230.9" y1="1505" y2="1867" stroke="#777" stroke-width="1.4"/>
<line x1="872.6" x2="872.6" y1="1505" y2="1867" stroke="#777" stroke-width="1.4"/>
<line x1="871.95" x2="1330.15" y1="1867" y2="1867" stroke="#444" stroke-width="1.3"/>
<line x1="872.6" x2="872.6" y1="1867" y2="1875.36" stroke="#444" stroke-width="1.3"/>
<text x="873.77" y="1887.8" font-size="13.61" text-anchor="middle" transform="matrix(1 0 0 1.120 0 -226.536)">-11.44</text>
<line x1="961.7" x2="961.7" y1="1867" y2="1875.36" stroke="#444" stroke-width="1.3"/>
<text x="962.87" y="1887.8" font-size="13.61" text-anchor="middle" transform="matrix(1 0 0 1.120 0 -226.536)">-7.22</text>
<line x1="1096.3" x2="1096.3" y1="1867" y2="1875.36" stroke="#444" stroke-width="1.3"/>
<text x="1097.47" y="1887.8" font-size="13.61" text-anchor="middle" transform="matrix(1 0 0 1.120 0 -226.536)">-0.88</text>
<line x1="1230.9" x2="1230.9" y1="1867" y2="1875.36" stroke="#444" stroke-width="1.3"/>
<text x="1233.04" y="1887.8" font-size="13.61" text-anchor="middle" transform="matrix(1 0 0 1.120 0 -226.536)">5.46</text>
<line x1="1329.5" x2="1329.5" y1="1867" y2="1875.36" stroke="#444" stroke-width="1.3"/>
<text x="1331.64" y="1887.8" font-size="13.61" text-anchor="middle" transform="matrix(1 0 0 1.120 0 -226.536)">10.11</text>
<line class="tk" x1="1031.8" x2="1031.8" y1="1512.56" y2="1522.64"/>
<line class="tk" x1="1281" x2="1281" y1="1512.56" y2="1522.64"/>
<circle class="ci" cx="1156.4" cy="1517.6" r="4.2"/>
<text x="858.1" y="1521.05" font-size="13.61" text-anchor="end" transform="matrix(1 0 0 1.120 0 -182.526)">Zhang Y 2008</text>
<line class="tk" x1="872.6" x2="872.6" y1="1680.66" y2="1690.74"/>
<line class="tk" x1="1329.5" x2="1329.5" y1="1680.66" y2="1690.74"/>
<circle class="ci" cx="1100.8" cy="1685.7" r="4.2"/>
<text x="859.3" y="1689.15" font-size="13.61" text-anchor="end" transform="matrix(1 0 0 1.120 0 -202.698)">Pérez-Rubio KG 2013</text>
<line class="tk" x1="930.7" x2="930.7" y1="1849.36" y2="1859.44"/>
<line class="tk" x1="1136.8" x2="1136.8" y1="1849.36" y2="1859.44"/>
<circle class="ci" cx="1033.8" cy="1854.4" r="4.2"/>
<text x="859.6" y="1857.85" font-size="13.61" text-anchor="end" transform="matrix(1 0 0 1.120 0 -222.942)">Zhao JV 2021</text>
<text class="cap" x="982.8" y="1931.8" font-size="29.17">(H)  SBP</text></g>
<g id="pI"><text x="164.6" y="1973.3" font-size="13.62" transform="matrix(1 0 0 1.055 0 -108.531)">Meta-analysis estimates, given named study is omitted</text>
<line class="tk" x1="164.5" x2="164.5" y1="1984.16" y2="1993.4"/>
<text x="170.5" y="1991.8" font-size="13.62" transform="matrix(1 0 0 1.055 0 -109.549)">Lower CI Limit</text>
<circle class="ci" cx="313.5" cy="1988.39" r="4.09"/>
<text x="319.6" y="1991.8" font-size="13.62" transform="matrix(1 0 0 1.055 0 -109.549)">Estimate</text>
<line class="tk" x1="462.6" x2="462.6" y1="1984.16" y2="1993.4"/>
<text x="468.4" y="1991.8" font-size="13.62" transform="matrix(1 0 0 1.055 0 -109.549)">Upper CI Limit</text>
<line class="dt" x1="249.3" x2="590.6" y1="2014.4" y2="2014.4"/>
<line class="dt" x1="162.4" x2="608" y1="2178.7" y2="2178.7"/>
<line class="dt" x1="208.8" x2="372.7" y1="2343" y2="2343"/>
<line x1="224.8" x2="224.8" y1="2002.5" y2="2355.3" stroke="#909090" stroke-width="1.7"/>
<line x1="366.2" x2="366.2" y1="2002.5" y2="2355.3" stroke="#909090" stroke-width="1.7"/>
<line x1="507.6" x2="507.6" y1="2002.5" y2="2355.3" stroke="#909090" stroke-width="1.7"/>
<line x1="161.4" x2="161.4" y1="2002.5" y2="2355.3" stroke="#909090" stroke-width="1.7"/>
<line x1="160.75" x2="609.65" y1="2355.3" y2="2355.3" stroke="#555" stroke-width="1.3"/>
<line x1="161.4" x2="161.4" y1="2355.3" y2="2363.67" stroke="#555" stroke-width="1.3"/>
<text x="162.57" y="2375.3" font-size="13.62" text-anchor="middle" transform="matrix(1 0 0 1.055 0 -130.641)">-7.27</text>
<line x1="224.8" x2="224.8" y1="2355.3" y2="2363.67" stroke="#555" stroke-width="1.3"/>
<text x="225.97" y="2375.3" font-size="13.62" text-anchor="middle" transform="matrix(1 0 0 1.055 0 -130.641)">-4.89</text>
<line x1="366.2" x2="366.2" y1="2355.3" y2="2363.67" stroke="#555" stroke-width="1.3"/>
<text x="368.34" y="2375.3" font-size="13.62" text-anchor="middle" transform="matrix(1 0 0 1.055 0 -130.641)">0.42</text>
<line x1="507.6" x2="507.6" y1="2355.3" y2="2363.67" stroke="#555" stroke-width="1.3"/>
<text x="509.74" y="2375.3" font-size="13.62" text-anchor="middle" transform="matrix(1 0 0 1.055 0 -130.641)">5.74</text>
<line x1="609" x2="609" y1="2355.3" y2="2363.67" stroke="#555" stroke-width="1.3"/>
<text x="611.14" y="2375.3" font-size="13.62" text-anchor="middle" transform="matrix(1 0 0 1.055 0 -130.641)">9.57</text>
<line class="tk" x1="248.3" x2="248.3" y1="2009.36" y2="2019.44"/>
<line class="tk" x1="591.6" x2="591.6" y1="2009.36" y2="2019.44"/>
<circle class="ci" cx="419.7" cy="2014.4" r="4.2"/>
<text x="148.5" y="2017.86" font-size="13.62" text-anchor="end" transform="matrix(1 0 0 1.055 0 -110.982)">Zhang Y  2008</text>
<line class="tk" x1="161.4" x2="161.4" y1="2173.66" y2="2183.74"/>
<line class="tk" x1="609" x2="609" y1="2173.66" y2="2183.74"/>
<circle class="ci" cx="384.7" cy="2178.7" r="4.2"/>
<text x="150.8" y="2182.16" font-size="13.62" text-anchor="end" transform="matrix(1 0 0 1.055 0 -120.019)">Pérez-Rubio KG 2013</text>
<line class="tk" x1="207.8" x2="207.8" y1="2337.96" y2="2348.04"/>
<line class="tk" x1="373.7" x2="373.7" y1="2337.96" y2="2348.04"/>
<circle class="ci" cx="290.8" cy="2343" r="4.2"/>
<text x="150.4" y="2346.46" font-size="13.62" text-anchor="end" transform="matrix(1 0 0 1.055 0 -129.055)">Zhao JV 2021</text>
<text class="cap" x="286.7" y="2399.7" font-size="29.1">(I)  DBP</text></g>
<g id="pJ"><text x="889.1" y="1961.9" font-size="13.08" transform="matrix(1 0 0 1.020 0 -39.238)">Meta-analysis estimates, given named study is omitted</text>
<line class="tk" x1="889.5" x2="889.5" y1="1971.92" y2="1980.8"/>
<text x="895.5" y="1979.2" font-size="13.08" transform="matrix(1 0 0 1.020 0 -39.584)">Lower CI Limit</text>
<circle class="ci" cx="1038.5" cy="1975.93" r="3.92"/>
<text x="1044.6" y="1979.2" font-size="13.08" transform="matrix(1 0 0 1.020 0 -39.584)">Estimate</text>
<line class="tk" x1="1187.6" x2="1187.6" y1="1971.92" y2="1980.8"/>
<text x="1194" y="1979.2" font-size="13.08" transform="matrix(1 0 0 1.020 0 -39.584)">Upper CI Limit</text>
<line class="dt" x1="1117.3" x2="1291.4" y1="2000" y2="2000"/>
<line class="dt" x1="1106.8" x2="1279.9" y1="2154.2" y2="2154.2"/>
<line class="dt" x1="887.7" x2="1333.5" y1="2308.4" y2="2308.4"/>
<line x1="1108.5" x2="1108.5" y1="1988.5" y2="2320" stroke="#909090" stroke-width="1.7"/>
<line x1="1192.9" x2="1192.9" y1="1988.5" y2="2320" stroke="#909090" stroke-width="1.7"/>
<line x1="1277.4" x2="1277.4" y1="1988.5" y2="2320" stroke="#909090" stroke-width="1.7"/>
<line x1="886" x2="886" y1="1988.5" y2="2320" stroke="#909090" stroke-width="1.7"/>
<line x1="885.15" x2="1335.35" y1="2320" y2="2320" stroke="#777" stroke-width="1.7"/>
<line x1="886.7" x2="886.7" y1="2320" y2="2328.03" stroke="#777" stroke-width="1.7"/>
<text x="887.82" y="2338.8" font-size="13.08" text-anchor="middle" transform="matrix(1 0 0 1.020 0 -46.776)">-2.64</text>
<line x1="1109" x2="1109" y1="2320" y2="2328.03" stroke="#777" stroke-width="1.7"/>
<text x="1110.12" y="2338.8" font-size="13.08" text-anchor="middle" transform="matrix(1 0 0 1.020 0 -46.776)">-1.89</text>
<line x1="1192.9" x2="1192.9" y1="2320" y2="2328.03" stroke="#777" stroke-width="1.7"/>
<text x="1194.02" y="2338.8" font-size="13.08" text-anchor="middle" transform="matrix(1 0 0 1.020 0 -46.776)">-1.61</text>
<line x1="1277.4" x2="1277.4" y1="2320" y2="2328.03" stroke="#777" stroke-width="1.7"/>
<text x="1278.52" y="2338.8" font-size="13.08" text-anchor="middle" transform="matrix(1 0 0 1.020 0 -46.776)">-1.32</text>
<line x1="1334.5" x2="1334.5" y1="2320" y2="2328.03" stroke="#777" stroke-width="1.7"/>
<text x="1335.62" y="2338.8" font-size="13.08" text-anchor="middle" transform="matrix(1 0 0 1.020 0 -46.776)">-1.13</text>
<line class="tk" x1="1116.3" x2="1116.3" y1="1995.16" y2="2004.84"/>
<line class="tk" x1="1292.4" x2="1292.4" y1="1995.16" y2="2004.84"/>
<circle class="ci" cx="1204.4" cy="2000" r="4.2"/>
<text x="878.1" y="2003.32" font-size="13.08" text-anchor="end" transform="matrix(1 0 0 1.020 0 -40.066)">Zhang Y  2008</text>
<line class="tk" x1="1105.8" x2="1105.8" y1="2149.36" y2="2159.04"/>
<line class="tk" x1="1280.9" x2="1280.9" y1="2149.36" y2="2159.04"/>
<circle class="ci" cx="1193.4" cy="2154.2" r="4.2"/>
<text x="877.7" y="2157.52" font-size="13.08" text-anchor="end" transform="matrix(1 0 0 1.020 0 -43.150)">Ming J 2021</text>
<line class="tk" x1="886.7" x2="886.7" y1="2303.56" y2="2313.24"/>
<line class="tk" x1="1334.5" x2="1334.5" y1="2303.56" y2="2313.24"/>
<circle class="ci" cx="1110.3" cy="2308.4" r="4.2"/>
<text x="878.8" y="2311.72" font-size="13.08" text-anchor="end" transform="matrix(1 0 0 1.020 0 -46.234)">Panigrahi A 2023</text>
<text class="cap" x="1007.1" y="2388" font-size="28.9">(J)  2h-OGTT</text></g>
</svg>
</body></html>
